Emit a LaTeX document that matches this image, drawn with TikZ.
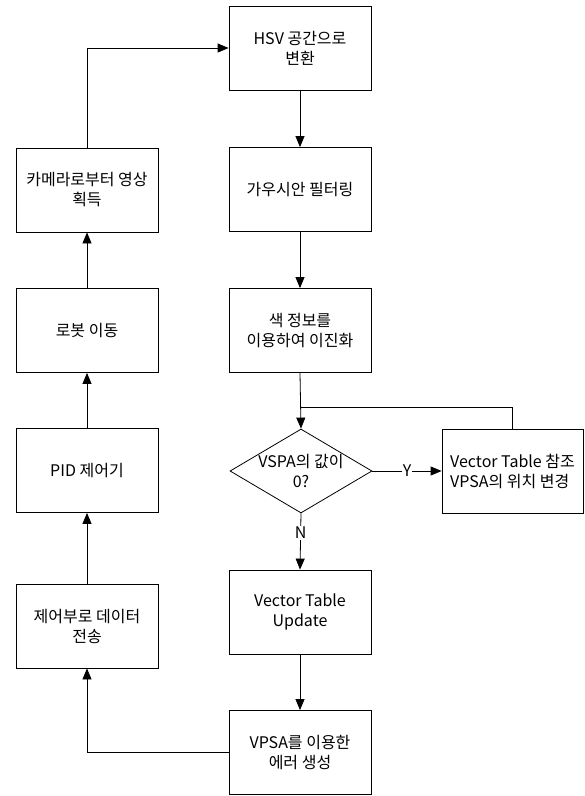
\documentclass[tikz,border=0pt]{standalone}
\usepackage{fontspec}
\setmainfont{Noto Sans CJK KR}
\usetikzlibrary{arrows.meta,shapes.geometric}
\begin{document}
\begin{tikzpicture}[x=1pt,y=-1pt,
  every node/.style={font=\fontsize{16}{20}\selectfont},
  box/.style={draw, line width=0.8pt, minimum width=142pt, minimum height=84pt, inner sep=1pt, align=center},
  dia/.style={draw, line width=0.8pt, diamond, minimum width=142pt, minimum height=84pt, inner sep=0pt},
  line/.style={draw, line width=0.8pt},
  arr/.style={line, -{Triangle[length=11pt,width=9pt]}},
  lab/.style={fill=white, inner sep=1pt}]
\useasboundingbox (0,0) rectangle (585,796);
% right column
\node[box] (hsv) at (300,48) {HSV 공간으로\\변환};
\node[box] (gauss) at (300,189.5) {가우시안 필터링};
\node[box] (color) at (300,330.5) {색 정보를\\이용하여 이진화};
\node[dia, label={[align=center]center:VSPA의 값이\\0?}] (dec) at (301,471) {};
\node[box, minimum width=141pt, align=left] (side) at (512.5,471) {Vector Table 참조\\VPSA의 위치 변경};
\node[box] (vtu) at (300,612) {Vector Table\\Update};
\node[box] (vpsa) at (300,752.5) {VPSA를 이용한\\에러 생성};
% left column
\node[box] (cam) at (87,190) {카메라로부터 영상\\획득};
\node[box] (robot) at (87,330.5) {로봇 이동};
\node[box] (pid) at (87,470.5) {PID 제어기};
\node[box] (data) at (87,626) {제어부로 데이터\\전송};
\coordinate (j) at (301,407);
% connectors
\draw[arr] (cam.north) |- (hsv.west);
\draw[arr] (hsv.south) -- (gauss.north);
\draw[arr] (gauss.south) -- (color.north);
\draw[arr] (color.south) -- (dec.north);
\draw[line] (side.north) |- (j);
\draw[arr] (dec.east) -- node[lab, pos=0.5] {Y} (side.west);
\draw[arr] (dec.south) -- node[lab, pos=0.35] {N} (vtu.north);
\draw[arr] (vtu.south) -- (vpsa.north);
\draw[arr] (vpsa.west) -| (data.south);
\draw[arr] (data.north) -- (pid.south);
\draw[arr] (pid.north) -- (robot.south);
\draw[arr] (robot.north) -- (cam.south);
\end{tikzpicture}
\end{document}
